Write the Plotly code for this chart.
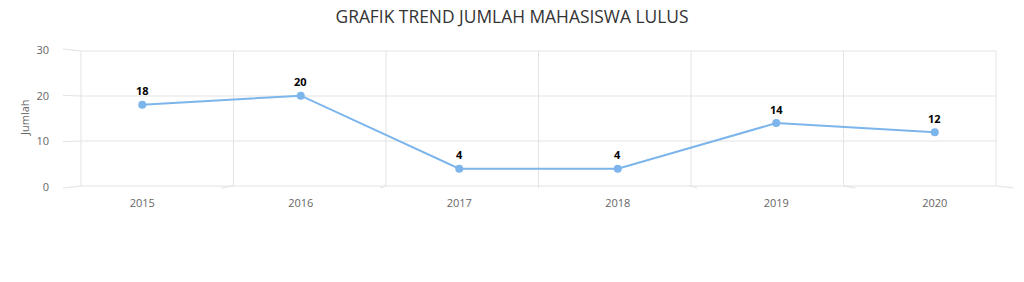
import plotly.graph_objects as go

years = ["2015", "2016", "2017", "2018", "2019", "2020"]
jumlah = [18, 20, 4, 4, 14, 12]
y_ticks = [0, 10, 20, 30]

W, H = 1024, 282
ML, MR, MT, MB = 63, 10, 50, 95
PW, PH = W - ML - MR, H - MT - MB

def px(x):
    return (x - ML) / PW

def py(y):
    return (H - MB - y) / PH

GRID = "#e3e3e3"
TEXT = "#666666"
FONT = "Open Sans"

fig = go.Figure()
fig.add_trace(go.Scatter(
    x=years, y=jumlah, mode="lines+markers",
    line=dict(color="#7cb5ec", width=2),
    marker=dict(color="#7cb5ec", size=8),
    hoverinfo="x+y", showlegend=False, cliponaxis=False,
))

shapes = []
def seg(x0, y0, x1, y1):
    shapes.append(dict(type="line", xref="paper", yref="paper",
                       x0=px(x0), y0=py(y0), x1=px(x1), y1=py(y1),
                       line=dict(color=GRID, width=1), layer="below"))

# back wall frame (3D-like)
back_l, back_r, back_t, back_b = 81, 996, 51, 186
n = len(years)
step = (back_r - back_l) / n
for i in range(n + 1):
    xb = back_l + i * step
    seg(xb, back_t, xb, back_b)
for v in y_ticks:
    yb = back_b - (back_b - back_t) * v / 30
    seg(back_l, yb, back_r, yb)
# left side wall edges
front_t, front_b = 49, 188
for v in y_ticks:
    yb = back_b - (back_b - back_t) * v / 30
    yf = front_b - (front_b - front_t) * v / 30
    seg(ML, yf, back_l, yb)
# floor edges
fstep = PW / n
for i in range(1, n + 1):
    xf = ML + i * fstep
    xb = back_l + i * step
    seg(xf, front_b, xb, back_b)

annotations = []
for i, v in enumerate(jumlah):
    annotations.append(dict(x=i, y=v, xref="x", yref="y", text=f"<b>{v}</b>",
                            showarrow=False, yshift=14, xanchor="center", yanchor="middle",
                            font=dict(family=FONT, size=11, color="#000000")))
annotations.append(dict(x=px(24), y=py(118), xref="paper", yref="paper", text="Jumlah",
                        showarrow=False, textangle=-90, xanchor="center", yanchor="middle",
                        font=dict(family=FONT, size=11, color=TEXT)))

fig.update_layout(
    width=W, height=H, margin=dict(l=ML, r=MR, t=MT, b=MB),
    paper_bgcolor="white", plot_bgcolor="white",
    title=dict(text="GRAFIK TREND JUMLAH MAHASISWA LULUS", x=0.5, xanchor="center",
               y=1 - 17 / H, yanchor="middle",
               font=dict(family=FONT, size=17.4, color="#333333")),
    xaxis=dict(type="category", range=[-0.5, n - 0.5], showgrid=False, zeroline=False,
               showline=False, ticks="", tickfont=dict(family=FONT, size=11, color=TEXT),
               ticklabelstandoff=8),
    yaxis=dict(range=[0, 30], tickvals=y_ticks, showgrid=False, zeroline=False,
               showline=False, ticks="", tickfont=dict(family=FONT, size=11, color=TEXT),
               ticklabelstandoff=13),
    shapes=shapes, annotations=annotations, showlegend=False,
)

fig.write_html("out.html")
